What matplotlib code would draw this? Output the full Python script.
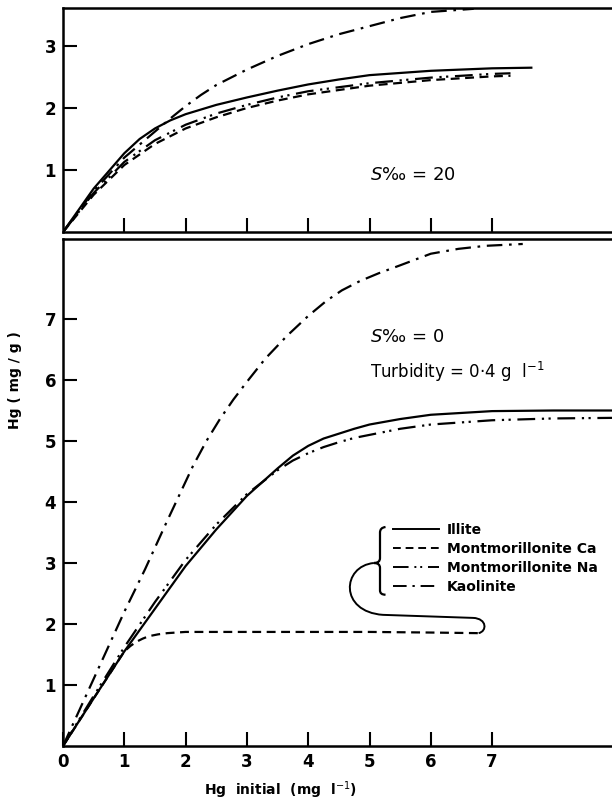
import numpy as np
import matplotlib
matplotlib.use("Agg")
import matplotlib.pyplot as plt
from matplotlib.path import Path
from matplotlib.patches import PathPatch
from matplotlib.lines import Line2D

# S = 20 (top panel)
top_ill_x = [0, 0.5, 1, 1.25, 1.5, 1.75, 2, 2.5, 3, 3.5, 4, 4.5, 5, 6, 7, 7.64]
top_ill_y = [0, 0.70, 1.27, 1.50, 1.67, 1.80, 1.90, 2.05, 2.17, 2.28, 2.38, 2.46, 2.53, 2.60, 2.64, 2.65]
top_ca_x = [0, 0.5, 1, 1.5, 2, 2.5, 3, 3.5, 4, 5, 6, 7, 7.3]
top_ca_y = [0, 0.60, 1.08, 1.42, 1.67, 1.85, 2.00, 2.12, 2.22, 2.36, 2.45, 2.51, 2.52]
top_na_x = [0, 0.5, 1, 1.5, 2, 2.5, 3, 3.5, 4, 5, 6, 7, 7.3]
top_na_y = [0, 0.63, 1.13, 1.48, 1.73, 1.91, 2.05, 2.17, 2.27, 2.40, 2.49, 2.55, 2.56]
top_kao_x = [0, 0.5, 1, 1.5, 1.75, 2, 2.25, 2.5, 3, 3.5, 4, 4.5, 5, 5.5, 6, 6.7]
top_kao_y = [0, 0.66, 1.20, 1.62, 1.83, 2.03, 2.21, 2.37, 2.62, 2.84, 3.03, 3.19, 3.32, 3.45, 3.55, 3.60]

# S = 0 (bottom panel)
bot_ill_x = [0, 0.5, 1, 1.5, 2, 2.5, 3, 3.5, 3.75, 4, 4.25, 4.5, 4.75, 5, 5.5, 6, 7, 8, 9.05]
bot_ill_y = [0, 0.78, 1.55, 2.25, 2.95, 3.55, 4.10, 4.55, 4.76, 4.92, 5.04, 5.12, 5.20, 5.27, 5.36, 5.43, 5.49, 5.50, 5.50]
bot_na_x = [0, 0.5, 1, 1.5, 2, 2.5, 3, 3.5, 3.75, 4, 4.25, 4.5, 4.75, 5, 5.5, 6, 7, 8, 9.05]
bot_na_y = [0, 0.82, 1.62, 2.36, 3.05, 3.63, 4.13, 4.52, 4.68, 4.80, 4.90, 4.98, 5.05, 5.10, 5.20, 5.27, 5.34, 5.37, 5.38]
bot_ca_x = [0, 0.5, 1, 1.1, 1.2, 1.3, 1.4, 1.55, 1.7, 2, 3, 4, 5, 6, 6.78]
bot_ca_y = [0, 0.78, 1.55, 1.64, 1.71, 1.76, 1.80, 1.83, 1.85, 1.87, 1.87, 1.87, 1.87, 1.86, 1.85]
bot_kao_x = [0, 0.5, 1, 1.34, 1.69, 2.12, 2.34, 2.56, 2.78, 3.0, 3.3, 3.65, 4.0, 4.3, 4.55, 4.84, 5.15, 5.5, 6.0, 6.45, 6.9, 7.5]
bot_kao_y = [0, 1.10, 2.20, 2.90, 3.67, 4.59, 5.00, 5.36, 5.68, 5.97, 6.35, 6.72, 7.05, 7.30, 7.47, 7.62, 7.75, 7.88, 8.07, 8.15, 8.20, 8.23]

names = ["Illite", "Montmorillonite Ca", "Montmorillonite Na", "Kaolinite"]
styles = ["-", (0, (4, 2.5)), (0, (8, 3, 1, 2, 1, 3)), (0, (7, 3, 1.2, 3))]

plt.rcParams["font.family"] = "DejaVu Sans"
lw = 1.6

fig = plt.figure(figsize=(6.12, 8.05), dpi=100)
ax1 = fig.add_axes([63 / 612, 1 - 232 / 805, 1.02 - 63 / 612, 224 / 805])
ax2 = fig.add_axes([63 / 612, 1 - 746 / 805, 1.02 - 63 / 612, 507 / 805])

xmax = (1.02 * 612 - 63) / 61.3

# top panel
for xs, ys, st in zip([top_ill_x, top_ca_x, top_na_x, top_kao_x],
                      [top_ill_y, top_ca_y, top_na_y, top_kao_y], styles):
    ax1.plot(xs, ys, color="black", lw=lw, linestyle=st,
             solid_joinstyle="round", dash_joinstyle="round")
ax1.set_xlim(0, xmax)
ax1.set_ylim(0, 224 / 62)
ax1.set_xticks([1, 2, 3, 4, 5, 6, 7])
ax1.set_xticklabels([])
ax1.set_yticks([1, 2, 3])
ax1.text(5.0, 0.92, "$S$‰ = 20", fontsize=13, va="center")

# bottom panel
for xs, ys, st in zip([bot_ill_x, bot_ca_x, bot_na_x, bot_kao_x],
                      [bot_ill_y, bot_ca_y, bot_na_y, bot_kao_y], styles):
    ax2.plot(xs, ys, color="black", lw=lw, linestyle=st,
             solid_joinstyle="round", dash_joinstyle="round")
ax2.set_xlim(0, xmax)
ax2.set_ylim(0, 507 / 61)
ax2.set_xticks(range(8))
ax2.set_yticks(range(1, 8))
ax2.text(5.0, 6.7, "$S$‰ = 0", fontsize=13, va="center")
ax2.text(5.0, 6.13, "Turbidity = 0·4 g  l$^{-1}$", fontsize=12, va="center")

for ax in (ax1, ax2):
    for sp in ax.spines.values():
        sp.set_linewidth(1.8)
    ax.tick_params(direction="in", length=10, width=1.5, labelsize=12, pad=5)
    for lab in ax.get_xticklabels() + ax.get_yticklabels():
        lab.set_fontweight("bold")

# legend
handles = [Line2D([], [], color="black", lw=1.4, linestyle=st) for st in styles]
fig.legend(handles, names, loc="upper left", bbox_to_anchor=(393 / 612, 1 - 523 / 805),
           frameon=False, borderpad=0, borderaxespad=0, handlelength=3.3,
           handletextpad=0.6, labelspacing=0.35, prop={"weight": "bold", "size": 10})

# brace around legend
bx = (380 - 63) / 61.3
brace = Path([(bx + 0.09, 3.59), (bx, 3.58), (bx, 3.50), (bx, 3.08), (bx, 3.0), (bx - 0.1, 3.0),
              (bx, 3.0), (bx, 2.92), (bx, 2.55), (bx, 2.48), (bx + 0.09, 2.48)],
             [Path.MOVETO, Path.CURVE3, Path.CURVE3, Path.LINETO, Path.CURVE3, Path.CURVE3,
              Path.CURVE3, Path.CURVE3, Path.LINETO, Path.CURVE3, Path.CURVE3])
ax2.add_patch(PathPatch(brace, fill=False, lw=1.6, color="black"))

# loop from brace to Montmorillonite Ca curve
loop = Path([(bx - 0.1, 3.0), (4.55, 2.95), (4.5, 2.2), (5.22, 2.15), (6.69, 2.10),
             (6.92, 2.09), (6.92, 1.88), (bot_ca_x[-1], bot_ca_y[-1])],
            [Path.MOVETO, Path.CURVE4, Path.CURVE4, Path.CURVE4, Path.LINETO,
             Path.CURVE4, Path.CURVE4, Path.CURVE4])
ax2.add_patch(PathPatch(loop, fill=False, lw=1.4, color="black"))

fig.text(280 / 612, 1 - 790 / 805, "Hg  initial  (mg  l$^{-1}$)", ha="center", va="center",
         fontsize=10, fontweight="bold")
fig.text(15 / 612, 1 - 380 / 805, "Hg ( mg / g )", ha="center", va="center",
         rotation=90, fontsize=10, fontweight="bold")

fig.savefig("out.png", dpi=100)
